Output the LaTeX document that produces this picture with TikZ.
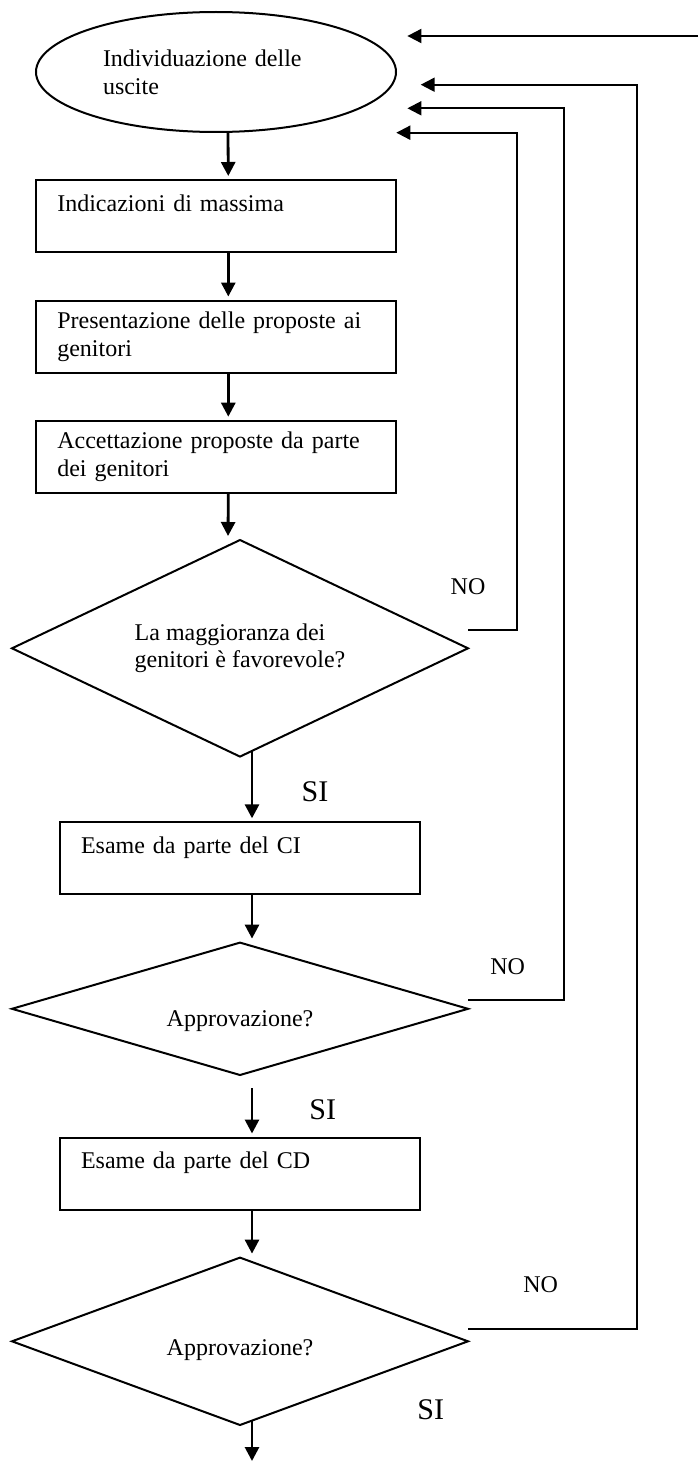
\documentclass[tikz,border=0pt]{standalone}
\usepackage{fontspec}
\setmainfont{Liberation Serif}
\usetikzlibrary{shapes.geometric, arrows.meta}

\begin{document}
\begin{tikzpicture}[x=0.5pt, y=-0.5pt, line width=1pt,
    font=\fontsize{12}{13.8}\selectfont,
    phase/.style={draw, rectangle, minimum height=36pt, text width=159pt,
      inner xsep=10.5pt, inner ysep=0pt, outer sep=0pt, align=left},
    oneline/.style={text height=8.5pt, text depth=13.5pt},
    choice/.style={draw, diamond, aspect=3, inner sep=0pt, outer sep=0pt,
      minimum width=228pt, align=left},
    arr/.style={-{Triangle[length=7pt, width=7pt]}},
    feed/.style={arr, line width=1.4pt, shorten >=2pt},
    answer/.style={font=\fontsize{15}{18}\selectfont}]
  \useasboundingbox (0, 0) rectangle (698, 1461);

  % Start
  \node[draw, ellipse, minimum width=180pt, minimum height=60pt, outer sep=0pt,
        text width=113pt, align=left] (uscite) at (216, 72)
        {Individuazione delle\\uscite};

  % Proposals
  \node[phase, oneline] (indic) at (216.3, 216) {Indicazioni di massima};
  \node[phase] (present) at (216.3, 336.5) {Presentazione delle proposte ai\\genitori};
  \node[phase] (accett) at (216.3, 456.7) {Accettazione proposte da parte\\dei genitori};
  \node[choice, minimum height=108.3pt] (d1) at (240, 648.3)
        {La maggioranza dei\\genitori è favorevole?};

  % Approvals
  \node[phase, oneline] (esameci) at (240, 858.3) {Esame da parte del CI};
  \node[choice, minimum height=66.2pt, text height=20.2pt, text depth=2.6pt] (d2)
        at (240, 1008.8) {Approvazione?};
  \node[phase, oneline] (esamecd) at (240, 1173.5) {Esame da parte del CD};
  \node[choice, minimum height=83.7pt, text height=17.2pt, text depth=2.6pt] (d3)
        at (240, 1341.3) {Approvazione?};

  % Free ends
  \coordinate (from) at (698, 36);
  \coordinate (in1) at (407.4, 36);
  \coordinate (in2) at (420.7, 84.7);
  \coordinate (in3) at (407.4, 108.3);
  \coordinate (in4) at (396.3, 132.7);
  \coordinate (out) at (252, 1461);

  \foreach \a/\b/\s in {uscite/indic/6pt, indic/present/6pt, present/accett/6pt,
                        accett/d1/-6pt, esameci/d2/6pt, esamecd/d3/6pt} {
    \draw[feed] ([xshift=6pt]\a.south) -- ([xshift=\s]\b.north);
  }
  \draw[feed] ([xshift=6pt, yshift=2.8pt]d1.south) -- ([xshift=6pt]esameci.north);
  \draw[feed] ([xshift=6pt, yshift=-6.5pt]d2.south) -- ([xshift=6pt]esamecd.north);
  \draw[arr, line width=1.4pt] ([xshift=6pt, yshift=2.2pt]d3.south) -- (out);

  % Back to the start
  \draw[arr] (from) -- (in1);
  \foreach \d/\dy/\len/\t in {d1/-18/48.5/in4, d2/-9/96.3/in3, d3/-12/168.5/in2} {
    \draw[arr] (\d.east) ++(0, \dy) -- ++(\len, 0) |- (\t);
  }

  \foreach \n/\x/\y in {1/468/587, 2/507.7/966.7, 3/540.7/1285} {
    \node (no\n) at (\x, \y) {NO};
  }
  \foreach \n/\x/\y in {1/315/791.7, 2/322.7/1110, 3/430.7/1410} {
    \node[answer] (si\n) at (\x, \y) {SI};
  }
\end{tikzpicture}
\end{document}
